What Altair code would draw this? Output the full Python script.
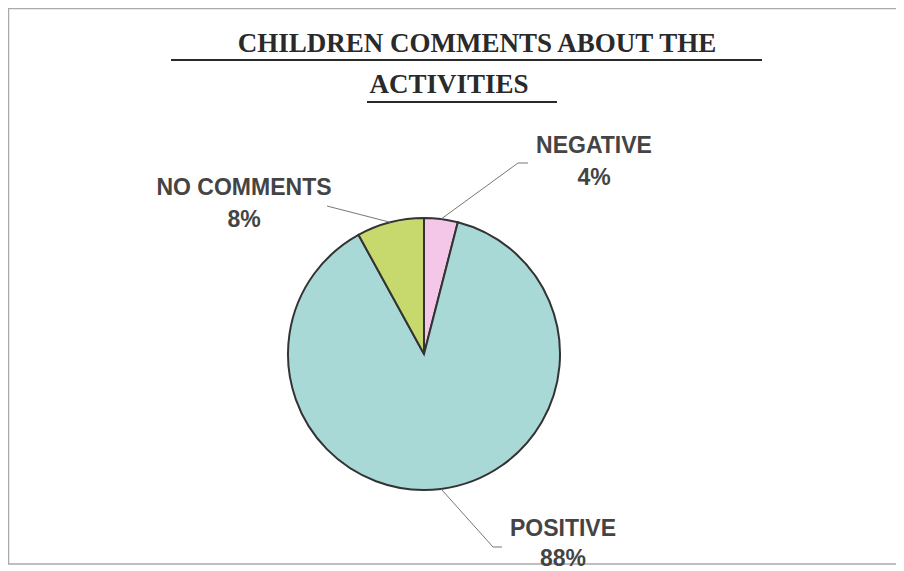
import math
import altair as alt
import pandas as pd

# ---- data ----
categories = ["NEGATIVE", "POSITIVE", "NO COMMENTS"]
percentages = [4, 88, 8]
slice_colors = ["#F4C6E8", "#A9D9D6", "#C7D96D"]
title_lines = ["CHILDREN COMMENTS ABOUT THE", "ACTIVITIES"]

# ---- layout (chart pixel coordinates) ----
W, H = 888, 563
CX, CY, R = 416, 346, 136
label_x = [586, 555, 236]          # NEGATIVE, POSITIVE, NO COMMENTS
label_base = [145, 528, 187]        # baseline of category name
label_gap = [32, 30, 32]
elbows = [[(510, 155), (520, 155)], [(485, 539), (494, 539)], [(319, 198)]]
title_x = [469, 441]
title_base = [44, 85]
underlines = [(163, 754, 52), (359, 549, 94)]
border_box = (0.5, W + 40, 0.5, 556)

# ---- pie ----
pie_df = pd.DataFrame({"category": categories, "value": percentages,
                       "idx": list(range(len(categories)))})
pie = alt.Chart(pie_df).mark_arc(radius=R, stroke="#333333", strokeWidth=2).encode(
    theta=alt.Theta("value:Q", stack=True),
    order=alt.Order("idx:Q"),
    color=alt.Color("category:N", scale=alt.Scale(domain=categories, range=slice_colors), legend=None),
    x=alt.value(CX), y=alt.value(CY),
)

# ---- labels ----
rows = []
for i, (c, p) in enumerate(zip(categories, percentages)):
    rows.append({"t": c, "x": label_x[i], "y": label_base[i]})
    rows.append({"t": f"{p}%", "x": label_x[i], "y": label_base[i] + label_gap[i]})
lab_df = pd.DataFrame(rows)
labels = alt.Chart(lab_df).mark_text(
    font="Liberation Sans", fontSize=23, fontWeight="bold", color="#444444",
    align="center", baseline="alphabetic"
).encode(x=alt.X("x:Q", scale=None), y=alt.Y("y:Q", scale=None), text="t:N")

# ---- leader lines: anchor at slice mid-angle (from data), elbow from layout ----
lead_rows = []
cum = 0
total = sum(percentages)
for i, (c, p) in enumerate(zip(categories, percentages)):
    mid = (cum + p / 2) / total * 2 * math.pi
    cum += p
    ax = CX + R * math.sin(mid)
    ay = CY - R * math.cos(mid)
    pts = [(ax, ay)] + elbows[i]
    for k, (px, py) in enumerate(pts):
        lead_rows.append({"category": c, "k": k, "x": px, "y": py})
lead_df = pd.DataFrame(lead_rows)
leaders = alt.Chart(lead_df).mark_line(color="#777777", strokeWidth=1).encode(
    x=alt.X("x:Q", scale=None), y=alt.Y("y:Q", scale=None),
    detail="category:N", order="k:Q",
)

# ---- title ----
t_df = pd.DataFrame({"t": title_lines, "x": title_x, "y": title_base})
title = alt.Chart(t_df).mark_text(
    font="Liberation Serif", fontSize=27, fontWeight="bold", color="#2a2a2a",
    align="center", baseline="alphabetic"
).encode(x=alt.X("x:Q", scale=None), y=alt.Y("y:Q", scale=None), text="t:N")

u_df = pd.DataFrame({"x": [u[0] for u in underlines], "x2": [u[1] for u in underlines],
                     "y": [u[2] for u in underlines]})
ulines = alt.Chart(u_df).mark_rule(color="#2a2a2a", strokeWidth=2).encode(
    x=alt.X("x:Q", scale=None), x2="x2:Q", y=alt.Y("y:Q", scale=None))

# ---- border box (right side runs past the page edge) ----
b_df = pd.DataFrame({"x": [border_box[0]], "x2": [border_box[1]],
                     "y": [border_box[2]], "y2": [border_box[3]]})
border = alt.Chart(b_df).mark_rect(filled=False, stroke="#aaaaaa", strokeWidth=1.5).encode(
    x=alt.X("x:Q", scale=None), x2="x2:Q", y=alt.Y("y:Q", scale=None), y2="y2:Q")

chart = alt.layer(border, pie, leaders, labels, ulines, title).properties(
    width=W, height=H, padding=0, autosize=alt.AutoSizeParams(type="none"),
    background="white", view=alt.ViewBackground(strokeWidth=0, stroke="transparent"),
).configure_view(stroke="transparent", strokeWidth=0)

chart.save("out.html", embed_options={"renderer": "svg", "actions": False})
